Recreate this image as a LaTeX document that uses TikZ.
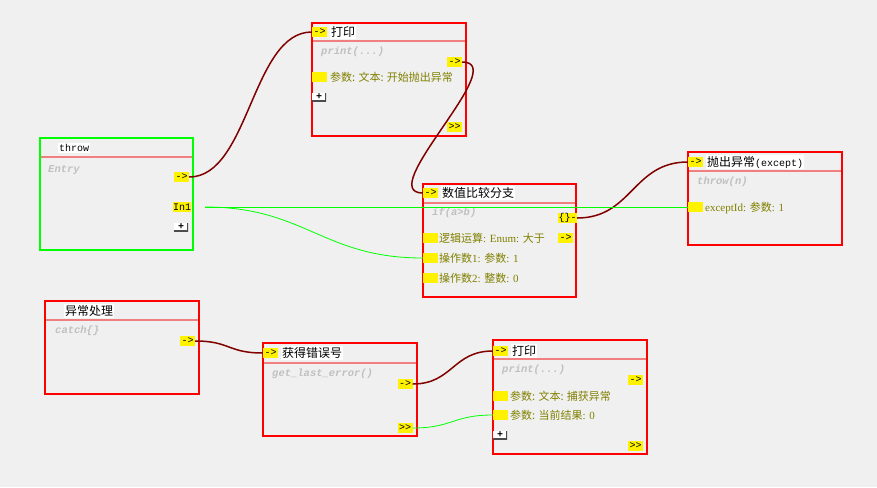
\documentclass[tikz,border=0pt]{standalone}
\usepackage{fontspec}
\setmainfont{Liberation Serif}
\setmonofont{Liberation Mono}
\newfontfamily\cjk{Noto Sans CJK SC}
\newcommand{\zh}[1]{{\cjk #1}}
\newcommand{\mono}[1]{{\ttfamily\fontsize{10}{10}\selectfont #1}}
\definecolor{bg}{HTML}{F0F0F0}
\definecolor{wirered}{HTML}{800000}
\definecolor{sepline}{HTML}{F08080}
\definecolor{prmtext}{HTML}{808000}
\definecolor{fntext}{HTML}{C0C0C0}
\definecolor{linkgreen}{HTML}{00FF00}
\begin{document}
\begin{tikzpicture}[x=1pt, y=-1pt,
	box/.style={draw=red, line width=2pt},
	sep/.style={draw=sepline, line width=1.5pt},
	pt/.style={fill=yellow, inner sep=0, minimum width=15pt, minimum height=10pt, font=\ttfamily\fontsize{10}{10}\selectfont},
	ttl/.style={fill=white, inner sep=1pt, anchor=west, font=\cjk\fontsize{12}{12}\selectfont},
	fn/.style={anchor=west, inner sep=0, text=fntext, font=\ttfamily\bfseries\itshape\fontsize{10.5}{10.5}\selectfont},
	prm/.style={anchor=west, inner sep=0, text=prmtext, font=\fontsize{11}{11}\selectfont},
	btn/.style={fill=white, inner sep=0, minimum width=14pt, minimum height=8pt, font=\ttfamily\bfseries\fontsize{10}{8}\selectfont,
		path picture={\draw[gray!60!black, line width=1.2pt] (path picture bounding box.south west) -- (path picture bounding box.south east) -- (path picture bounding box.north east);}},
	wire/.style={draw=wirered, line width=1.5pt},
	link/.style={draw=linkgreen, line width=0.8pt}]
	\fill[bg] (0,0) rectangle (877,487);
	\useasboundingbox (0,0) rectangle (877,487);

	% throw
	\draw[box, draw=linkgreen] (40,138) rectangle (193,250);
	\draw[sep] (41,157) -- (192,157);
	\node[ttl] (tTtl) at (58,148) {\mono{throw}};
	\node[fn] (tFn) at (48,170) {Entry};
	\node[pt] (tOut) at (181.5,177) {->};
	\node[pt, minimum width=16pt] (tIn) at (182,207) {In1};
	\node[btn] (tAdd) at (181,227) {+};

	% print, top
	\draw[box] (312,23) rectangle (466,136);
	\draw[sep] (313,41) -- (465,41);
	\node[pt] (pIn) at (319.5,32) {->};
	\node[ttl] (pTtl) at (330,32) {打印};
	\node[fn] (pFn) at (321,52) {print(...)};
	\node[pt] (pOut) at (454.5,62) {->};
	\node[pt] (pA) at (319.5,77) {};
	\node[prm] (pAt) at (330,77) {\zh{参数: 文本: 开始抛出异常}};
	\node[btn] (pAdd) at (319,97) {+};
	\node[pt] (pNx) at (454.5,127) {>>};

	% compare
	\draw[box] (423,184) rectangle (576,297);
	\draw[sep] (424,203) -- (575,203);
	\node[pt] (cIn) at (430.5,193) {->};
	\node[ttl] (cTtl) at (441,193) {数值比较分支};
	\node[fn] (cFn) at (432,213) {if(a>b)};
	\node[pt, minimum width=19pt] (cBr) at (567.5,218) {\{\}-};
	\node[pt] (cOut) at (565.5,238) {->};
	\node[pt] (cA) at (430.5,238) {};
	\node[pt] (cB) at (430.5,258) {};
	\node[pt] (cC) at (430.5,278) {};
	\node[prm] (cAt) at (439,238) {\zh{逻辑运算}: Enum: \zh{大于}};
	\node[prm] (cBt) at (439,258) {\zh{操作数}1: \zh{参数}: 1};
	\node[prm] (cCt) at (439,278) {\zh{操作数}2: \zh{整数}: 0};

	% throw(n)
	\draw[box] (688,152) rectangle (842,245);
	\draw[sep] (689,171) -- (841,171);
	\node[pt] (eIn) at (695.5,162) {->};
	\node[ttl] (eTtl) at (706,162) {抛出异常\mono{(except)}};
	\node[fn] (eFn) at (697,182) {throw(n)};
	\node[pt] (eA) at (695.5,207) {};
	\node[prm] (eAt) at (705,208) {exceptId: \zh{参数}: 1};

	% catch
	\draw[box] (45,301) rectangle (199,394);
	\draw[sep] (46,320) -- (198,320);
	\node[ttl] (hTtl) at (64,311) {异常处理};
	\node[fn] (hFn) at (55,331) {catch\{\}};
	\node[pt] (hOut) at (187.5,341) {->};

	% get_last_error
	\draw[box] (263,343) rectangle (417,436);
	\draw[sep] (264,363) -- (416,363);
	\node[pt] (gIn) at (270.5,353) {->};
	\node[ttl] (gTtl) at (281,353) {获得错误号};
	\node[fn] (gFn) at (272,374) {get\_last\_error()};
	\node[pt] (gOut) at (405,384) {->};
	\node[pt] (gNx) at (405,428) {>>};

	% print, bottom
	\draw[box] (493,340) rectangle (647,454);
	\draw[sep] (494,359) -- (646,359);
	\node[pt] (qIn) at (500.5,351) {->};
	\node[ttl] (qTtl) at (511,351) {打印};
	\node[fn] (qFn) at (502,370) {print(...)};
	\node[pt] (qOut) at (635.5,380) {->};
	\node[pt] (qA) at (500.5,396) {};
	\node[pt] (qB) at (500.5,415) {};
	\node[prm] (qAt) at (510,396) {\zh{参数: 文本: 捕获异常}};
	\node[prm] (qBt) at (510,415) {\zh{参数: 当前结果}: 0};
	\node[btn] (qAdd) at (500,435) {+};
	\node[pt] (qNx) at (635.5,446) {>>};

	% wires
	\draw[wire] (tOut.east) .. controls +(60,0) and +(-60,0) .. (pIn.west);
	\draw[wire] (pOut.east) .. controls +(50,0) and +(-50,0) .. (cIn.west);
	\draw[wire] (cBr.east) .. controls +(55,0) and +(-55,0) .. (eIn.west);
	\draw[wire] (hOut.east) .. controls +(35,0) and +(-35,0) .. (gIn.west);
	\draw[wire] (gOut.east) .. controls +(40,0) and +(-40,0) .. (qIn.west);

	% data links
	\coordinate (tInEnd) at ([xshift=14pt]tIn.east);
	\draw[link] (tInEnd) -- (eA.west);
	\draw[link] (tInEnd) .. controls +(100,0) and +(-100,0) .. (cB.west);
	\draw[link] (gNx.east) .. controls +(40,0) and +(-40,0) .. (qB.west);
\end{tikzpicture}
\end{document}
